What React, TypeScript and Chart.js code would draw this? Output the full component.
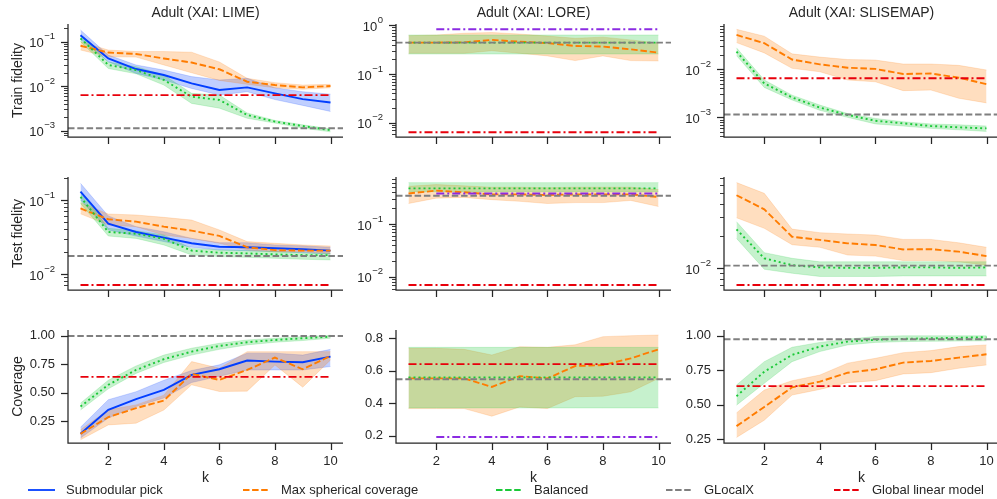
import React, { useEffect, useRef } from 'react';
import { Chart, registerables } from 'chart.js';
Chart.register(...registerables);

const FONT = '"Liberation Sans", Arial, Helvetica, sans-serif';
Chart.defaults.font.family = FONT;
const INK = '#262626';

// ---------------- data ----------------
const K = [1, 2, 3, 4, 5, 6, 7, 8, 9, 10];
const X_TICKS = [2, 4, 6, 8, 10];
const COV_TICKS_A = [0.25, 0.5, 0.75, 1.0];
const COV_TICKS_B = [0.2, 0.4, 0.6, 0.8];

// LIME – train fidelity
const limeTrainSub = [0.14, 0.042, 0.0243, 0.0178, 0.0116, 0.0082, 0.0094, 0.0069, 0.0051, 0.0043];
const limeTrainSubLo = [0.113, 0.0355, 0.0194, 0.0138, 0.0089, 0.0063, 0.0075, 0.005, 0.0037, 0.0027];
const limeTrainSubHi = [0.183, 0.05, 0.03, 0.023, 0.0164, 0.0138, 0.015, 0.0092, 0.0075, 0.0066];
const limeTrainMsc = [0.081, 0.057, 0.053, 0.042, 0.034, 0.024, 0.0126, 0.0106, 0.0094, 0.0101];
const limeTrainMscLo = [0.065, 0.046, 0.045, 0.03, 0.02, 0.0135, 0.011, 0.0092, 0.0085, 0.0092];
const limeTrainMscHi = [0.1, 0.065, 0.06, 0.06, 0.058, 0.035, 0.015, 0.012, 0.0106, 0.011];
const limeTrainBal = [0.119, 0.03, 0.023, 0.0138, 0.0058, 0.0049, 0.00225, 0.0016, 0.00127, 0.00103];
const limeTrainBalLo = [0.1, 0.025, 0.019, 0.0106, 0.0041, 0.0032, 0.0019, 0.00148, 0.00114, 0.00094];
const limeTrainBalHi = [0.14, 0.035, 0.0275, 0.0178, 0.0069, 0.0063, 0.0025, 0.0017, 0.00135, 0.0011];

// LORE – train fidelity
const loreTrainMsc = [0.44, 0.44, 0.445, 0.5, 0.46, 0.43, 0.376, 0.365, 0.32, 0.274];
const loreTrainMscLo = [0.266, 0.266, 0.266, 0.3, 0.266, 0.235, 0.188, 0.235, 0.188, 0.185];
const loreTrainMscHi = [0.61, 0.63, 0.685, 0.71, 0.66, 0.6, 0.54, 0.57, 0.5, 0.43];
const loreTrainBal = [0.44, 0.44, 0.44, 0.44, 0.44, 0.44, 0.44, 0.44, 0.44, 0.44];
const loreTrainBalLo = [0.257, 0.257, 0.257, 0.257, 0.257, 0.257, 0.257, 0.257, 0.257, 0.257];
const loreTrainBalHi = [0.63, 0.63, 0.63, 0.63, 0.63, 0.63, 0.63, 0.63, 0.63, 0.63];

// SLISEMAP – train fidelity
const sliTrainMsc = [0.052, 0.035, 0.016, 0.0127, 0.0108, 0.0102, 0.008, 0.0082, 0.0067, 0.0049];
const sliTrainMscLo = [0.036, 0.022, 0.0105, 0.0089, 0.006, 0.0055, 0.0036, 0.0037, 0.0025, 0.002];
const sliTrainMscHi = [0.068, 0.049, 0.021, 0.018, 0.016, 0.0156, 0.0129, 0.0129, 0.0121, 0.0097];
const sliTrainBal = [0.0233, 0.0051, 0.0026, 0.0016, 0.00112, 0.00085, 0.00075, 0.00066, 0.00062, 0.00059];
const sliTrainBalLo = [0.0193, 0.0042, 0.0023, 0.0014, 0.001, 0.00073, 0.00066, 0.00059, 0.00055, 0.00051];
const sliTrainBalHi = [0.028, 0.006, 0.0029, 0.0018, 0.0012, 0.00095, 0.00081, 0.00073, 0.0007, 0.00066];

// LIME – test fidelity
const limeTestSub = [0.13, 0.048, 0.037, 0.031, 0.026, 0.0234, 0.023, 0.0223, 0.0216, 0.0207];
const limeTestSubLo = [0.1, 0.0394, 0.0326, 0.0274, 0.023, 0.0211, 0.0207, 0.02, 0.0194, 0.0186];
const limeTestSubHi = [0.168, 0.061, 0.0436, 0.0373, 0.0303, 0.0265, 0.0265, 0.0247, 0.024, 0.023];
const limeTestMsc = [0.077, 0.055, 0.051, 0.0436, 0.0386, 0.0327, 0.023, 0.021, 0.0207, 0.0207];
const limeTestMscLo = [0.065, 0.046, 0.0436, 0.0336, 0.0303, 0.026, 0.0211, 0.02, 0.02, 0.019];
const limeTestMscHi = [0.092, 0.0647, 0.0627, 0.0583, 0.0536, 0.0394, 0.0274, 0.026, 0.0247, 0.0239];
const limeTestBal = [0.11, 0.037, 0.035, 0.03, 0.0207, 0.0194, 0.019, 0.0184, 0.018, 0.018];
const limeTestBalLo = [0.09, 0.0326, 0.0303, 0.0247, 0.0181, 0.0172, 0.0168, 0.0163, 0.0158, 0.0155];
const limeTestBalHi = [0.13, 0.0414, 0.0385, 0.0336, 0.0222, 0.0211, 0.0207, 0.02, 0.0194, 0.019];

// LORE – test fidelity
const loreTestMsc = [0.38, 0.43, 0.4, 0.365, 0.365, 0.355, 0.365, 0.365, 0.365, 0.326];
const loreTestMscLo = [0.245, 0.31, 0.32, 0.29, 0.27, 0.245, 0.255, 0.255, 0.28, 0.215];
const loreTestMscHi = [0.52, 0.56, 0.53, 0.5, 0.5, 0.49, 0.5, 0.5, 0.5, 0.45];
const loreTestBal = [0.475, 0.475, 0.475, 0.475, 0.475, 0.475, 0.475, 0.475, 0.475, 0.475];
const loreTestBalLo = [0.41, 0.41, 0.41, 0.41, 0.41, 0.41, 0.41, 0.41, 0.41, 0.41];
const loreTestBalHi = [0.61, 0.61, 0.61, 0.61, 0.61, 0.61, 0.61, 0.61, 0.61, 0.61];

// SLISEMAP – test fidelity
const sliTestMsc = [0.048, 0.0355, 0.0197, 0.0184, 0.0171, 0.0165, 0.015, 0.0151, 0.0143, 0.013];
const sliTestMscLo = [0.0296, 0.0236, 0.0166, 0.0157, 0.0133, 0.013, 0.0118, 0.0118, 0.0115, 0.0107];
const sliTestMscHi = [0.063, 0.05, 0.0232, 0.0215, 0.0209, 0.0204, 0.0186, 0.0186, 0.0173, 0.0157];
const sliTestBal = [0.0231, 0.0124, 0.0107, 0.0102, 0.0101, 0.0101, 0.0102, 0.0102, 0.0101, 0.0102];
const sliTestBalLo = [0.019, 0.0098, 0.009, 0.0084, 0.0084, 0.0084, 0.0085, 0.0085, 0.0085, 0.0085];
const sliTestBalHi = [0.0272, 0.014, 0.0124, 0.0115, 0.0115, 0.0115, 0.0115, 0.0115, 0.0115, 0.0115];

// LIME – coverage
const limeCovSub = [0.142, 0.352, 0.445, 0.526, 0.657, 0.706, 0.782, 0.773, 0.767, 0.817];
const limeCovSubLo = [0.105, 0.28, 0.38, 0.455, 0.59, 0.645, 0.7, 0.7, 0.7, 0.73];
const limeCovSubHi = [0.2, 0.44, 0.51, 0.61, 0.695, 0.745, 0.847, 0.847, 0.83, 0.88];
const limeCovMsc = [0.142, 0.288, 0.366, 0.433, 0.666, 0.613, 0.7, 0.808, 0.706, 0.823];
const limeCovMscLo = [0.09, 0.22, 0.235, 0.35, 0.57, 0.512, 0.515, 0.744, 0.55, 0.787];
const limeCovMscHi = [0.177, 0.352, 0.395, 0.48, 0.773, 0.715, 0.86, 0.86, 0.86, 0.86];
const limeCovBal = [0.381, 0.57, 0.7, 0.794, 0.86, 0.91, 0.942, 0.962, 0.977, 0.991];
const limeCovBalLo = [0.35, 0.535, 0.67, 0.765, 0.83, 0.88, 0.919, 0.942, 0.957, 0.977];
const limeCovBalHi = [0.41, 0.61, 0.735, 0.83, 0.89, 0.933, 0.962, 0.977, 0.991, 1.003];

// LORE – coverage
const loreCovMsc = [0.553, 0.553, 0.553, 0.5, 0.567, 0.553, 0.629, 0.635, 0.676, 0.732];
const loreCovMscLo = [0.367, 0.367, 0.367, 0.32, 0.377, 0.367, 0.44, 0.443, 0.47, 0.553];
const loreCovMscHi = [0.738, 0.738, 0.732, 0.697, 0.748, 0.744, 0.76, 0.81, 0.816, 0.82];
const loreCovBal = [0.559, 0.559, 0.559, 0.559, 0.559, 0.559, 0.559, 0.559, 0.559, 0.559];
const loreCovBalLo = [0.371, 0.371, 0.371, 0.371, 0.371, 0.371, 0.371, 0.371, 0.371, 0.371];
const loreCovBalHi = [0.744, 0.744, 0.744, 0.744, 0.744, 0.744, 0.744, 0.744, 0.744, 0.744];

// SLISEMAP – coverage
const sliCovMsc = [0.344, 0.483, 0.625, 0.666, 0.731, 0.755, 0.804, 0.816, 0.84, 0.864];
const sliCovMscLo = [0.262, 0.387, 0.569, 0.61, 0.659, 0.673, 0.722, 0.731, 0.763, 0.787];
const sliCovMscHi = [0.44, 0.605, 0.673, 0.714, 0.8, 0.835, 0.876, 0.891, 0.92, 0.932];
const sliCovBal = [0.561, 0.738, 0.86, 0.92, 0.956, 0.969, 0.976, 0.98, 0.983, 0.988];
const sliCovBalLo = [0.496, 0.654, 0.811, 0.884, 0.932, 0.95, 0.956, 0.958, 0.96, 0.962];
const sliCovBalHi = [0.642, 0.811, 0.915, 0.95, 0.973, 0.993, 0.998, 0.998, 0.998, 0.998];

// reference lines (GLocalX, global linear model, extra LORE line)
const glocalx = [0.00113, 0.44, 0.00115, 0.0175, 0.345, 0.0106, 0.997, 0.548, 0.973];
const globalLinear = [0.0063, 0.0064, 0.0065, 0.0071, 0.007, 0.007, 0.64, 0.641, 0.634];
const loreExtra = [0.83, 0.38, 0.192];

// ---------------- styles / layout ----------------
const BLUE = '#023eff';
const ORANGE = '#ff7c00';
const GREEN = '#1ac938';
const GRAY = '#7f7f7f';
const RED = '#e8000b';
const PURPLE = '#8b2be2';

const X_MIN = 0.55;
const X_MAX = 10.45;
const PLOT_W = 275;
const PLOT_H = 113;
const Y_AXIS_W = 68;
const RIGHT_PAD = 8;
const COL_LEFT = [0, 328, 656];
const ROW_TOP = [0, 163, 316];
const TOP_PAD = [24, 14, 14];
const X_AXIS_H = [10, 10, 45];

type Band = { mean: number[]; lo: number[]; hi: number[] };
interface Panel {
  row: number;
  col: number;
  title?: string;
  yLabel?: string;
  log: boolean;
  yMin: number;
  yMax: number;
  yTicks?: number[];
  yDec?: number;
  sub?: Band;
  msc: Band;
  bal: Band;
  glocalx: number;
  global: number;
  extra?: number;
}

const PANELS: Panel[] = [
  { row: 0, col: 0, title: 'Adult (XAI: LIME)', yLabel: 'Train fidelity', log: true, yMin: 0.00072, yMax: 0.25,
    sub: { mean: limeTrainSub, lo: limeTrainSubLo, hi: limeTrainSubHi },
    msc: { mean: limeTrainMsc, lo: limeTrainMscLo, hi: limeTrainMscHi },
    bal: { mean: limeTrainBal, lo: limeTrainBalLo, hi: limeTrainBalHi },
    glocalx: glocalx[0], global: globalLinear[0] },
  { row: 0, col: 1, title: 'Adult (XAI: LORE)', log: true, yMin: 0.0051, yMax: 1.06,
    msc: { mean: loreTrainMsc, lo: loreTrainMscLo, hi: loreTrainMscHi },
    bal: { mean: loreTrainBal, lo: loreTrainBalLo, hi: loreTrainBalHi },
    glocalx: glocalx[1], global: globalLinear[1], extra: loreExtra[0] },
  { row: 0, col: 2, title: 'Adult (XAI: SLISEMAP)', log: true, yMin: 0.00039, yMax: 0.0879,
    msc: { mean: sliTrainMsc, lo: sliTrainMscLo, hi: sliTrainMscHi },
    bal: { mean: sliTrainBal, lo: sliTrainBalLo, hi: sliTrainBalHi },
    glocalx: glocalx[2], global: globalLinear[2] },
  { row: 1, col: 0, yLabel: 'Test fidelity', log: true, yMin: 0.00608, yMax: 0.2046,
    sub: { mean: limeTestSub, lo: limeTestSubLo, hi: limeTestSubHi },
    msc: { mean: limeTestMsc, lo: limeTestMscLo, hi: limeTestMscHi },
    bal: { mean: limeTestBal, lo: limeTestBalLo, hi: limeTestBalHi },
    glocalx: glocalx[3], global: globalLinear[3] },
  { row: 1, col: 1, log: true, yMin: 0.00562, yMax: 0.78,
    msc: { mean: loreTestMsc, lo: loreTestMscLo, hi: loreTestMscHi },
    bal: { mean: loreTestBal, lo: loreTestBalLo, hi: loreTestBalHi },
    glocalx: glocalx[4], global: globalLinear[4], extra: loreExtra[1] },
  { row: 1, col: 2, log: true, yMin: 0.00628, yMax: 0.071,
    msc: { mean: sliTestMsc, lo: sliTestMscLo, hi: sliTestMscHi },
    bal: { mean: sliTestBal, lo: sliTestBalLo, hi: sliTestBalHi },
    glocalx: glocalx[5], global: globalLinear[5] },
  { row: 2, col: 0, yLabel: 'Coverage', log: false, yMin: 0.062, yMax: 1.049, yTicks: COV_TICKS_A, yDec: 2,
    sub: { mean: limeCovSub, lo: limeCovSubLo, hi: limeCovSubHi },
    msc: { mean: limeCovMsc, lo: limeCovMscLo, hi: limeCovMscHi },
    bal: { mean: limeCovBal, lo: limeCovBalLo, hi: limeCovBalHi },
    glocalx: glocalx[6], global: globalLinear[6] },
  { row: 2, col: 1, log: false, yMin: 0.155, yMax: 0.851, yTicks: COV_TICKS_B, yDec: 1,
    msc: { mean: loreCovMsc, lo: loreCovMscLo, hi: loreCovMscHi },
    bal: { mean: loreCovBal, lo: loreCovBalLo, hi: loreCovBalHi },
    glocalx: glocalx[7], global: globalLinear[7], extra: loreExtra[2] },
  { row: 2, col: 2, log: false, yMin: 0.222, yMax: 1.04, yTicks: COV_TICKS_A, yDec: 2,
    msc: { mean: sliCovMsc, lo: sliCovMscLo, hi: sliCovMscHi },
    bal: { mean: sliCovBal, lo: sliCovBalLo, hi: sliCovBalHi },
    glocalx: glocalx[8], global: globalLinear[8] },
];

function rgba(hex: string, a: number) {
  const n = parseInt(hex.slice(1), 16);
  return `rgba(${(n >> 16) & 255},${(n >> 8) & 255},${n & 255},${a})`;
}

function logTicks(min: number, max: number) {
  const out: { value: number; major: boolean }[] = [];
  for (let e = Math.floor(Math.log10(min)); e <= Math.ceil(Math.log10(max)); e++) {
    for (let m = 1; m <= 9; m++) {
      const v = parseFloat((m * Math.pow(10, e)).toPrecision(6));
      if (v >= min * 0.9999 && v <= max * 1.0001) out.push({ value: v, major: m === 1 });
    }
  }
  return out;
}

const DASH = [6.5, 2.8];
const DOT = [2, 3];
const DASHDOT = [8, 3, 2, 3];

function buildDatasets(p: Panel) {
  const ds: any[] = [];
  const methods: [Band | undefined, string, number[]][] = [
    [p.sub, BLUE, []],
    [p.msc, ORANGE, DASH],
    [p.bal, GREEN, DOT],
  ];
  for (const [b, color] of methods) {
    if (!b) continue;
    ds.push({ data: K.map((k, i) => ({ x: k, y: b.hi[i] })), borderColor: rgba(color, 0.22), borderWidth: 0.8, fill: false });
    ds.push({ data: K.map((k, i) => ({ x: k, y: b.lo[i] })), borderColor: rgba(color, 0.22), borderWidth: 0.8, fill: '-1', backgroundColor: rgba(color, 0.25) });
  }
  for (const [b, color, dash] of methods) {
    if (!b) continue;
    ds.push({ data: K.map((k, i) => ({ x: k, y: b.mean[i] })), borderColor: color, borderWidth: 1.9, borderDash: dash, fill: false });
  }
  ds.push({ data: [{ x: X_MIN, y: p.glocalx }, { x: X_MAX, y: p.glocalx }], borderColor: GRAY, borderWidth: 1.9, borderDash: DASH, fill: false });
  ds.push({ data: [{ x: K[0], y: p.global }, { x: K[K.length - 1], y: p.global }], borderColor: RED, borderWidth: 1.9, borderDash: DASHDOT, fill: false });
  if (p.extra !== undefined) {
    ds.push({ data: [{ x: K[1], y: p.extra }, { x: K[K.length - 1], y: p.extra }], borderColor: PURPLE, borderWidth: 1.9, borderDash: DASHDOT, fill: false });
  }
  const n = ds.length;
  ds.forEach((d, i) => {
    d.order = n - i;
    d.pointRadius = 0;
    d.pointHoverRadius = 0;
    d.tension = 0;
    d.borderCapStyle = 'butt';
  });
  return ds;
}

function makeAxesPlugin(p: Panel) {
  return {
    id: 'mplAxes',
    afterDraw(chart: any) {
      const { ctx, chartArea: ca } = chart;
      const xs = chart.scales.x;
      const ys = chart.scales.y;
      ctx.save();
      ctx.strokeStyle = INK;
      ctx.lineWidth = 1.25;
      ctx.beginPath();
      ctx.moveTo(ca.left, ca.top);
      ctx.lineTo(ca.left, ca.bottom);
      ctx.lineTo(ca.right, ca.bottom);
      ctx.stroke();
      ctx.beginPath();
      for (const t of xs.ticks) {
        const px = Math.round(xs.getPixelForValue(t.value)) + 0.5;
        ctx.moveTo(px, ca.bottom);
        ctx.lineTo(px, ca.bottom + 7);
      }
      ctx.stroke();
      for (const t of ys.ticks) {
        const py = Math.round(ys.getPixelForValue(t.value)) + 0.5;
        const major = !p.log || t.major;
        ctx.lineWidth = major ? 1.25 : 0.9;
        ctx.beginPath();
        ctx.moveTo(ca.left, py);
        ctx.lineTo(ca.left - (major ? 7 : 4), py);
        ctx.stroke();
      }
      ctx.fillStyle = INK;
      if (p.log) {
        const right = ca.left - 13;
        for (const t of ys.ticks) {
          if (!t.major) continue;
          const e = Math.round(Math.log10(t.value));
          const py = ys.getPixelForValue(t.value);
          const exp = e < 0 ? '\u2212' + Math.abs(e) : String(e);
          ctx.font = `9.5px ${FONT}`;
          const ew = ctx.measureText(exp).width;
          ctx.textBaseline = 'middle';
          ctx.textAlign = 'left';
          ctx.fillText(exp, right - ew, py - 5);
          ctx.font = `13px ${FONT}`;
          ctx.textAlign = 'right';
          ctx.fillText('10', right - ew - 0.5, py + 2);
        }
      }
      if (p.title) {
        ctx.font = `14px ${FONT}`;
        ctx.textAlign = 'center';
        ctx.textBaseline = 'middle';
        ctx.fillText(p.title, (ca.left + ca.right) / 2, 13);
      }
      ctx.restore();
    },
  };
}

function makeConfig(p: Panel): any {
  const bottomRow = p.row === 2;
  return {
    type: 'line',
    data: { datasets: buildDatasets(p) },
    plugins: [makeAxesPlugin(p)],
    options: {
      responsive: false,
      animation: false,
      devicePixelRatio: 1,
      events: [],
      layout: { padding: { top: TOP_PAD[p.row], right: RIGHT_PAD, left: 0, bottom: 0 } },
      plugins: { legend: { display: false }, tooltip: { enabled: false }, title: { display: false } },
      scales: {
        x: {
          type: 'linear',
          min: X_MIN,
          max: X_MAX,
          afterBuildTicks: (s: any) => { s.ticks = X_TICKS.map((v) => ({ value: v })); },
          afterFit: (s: any) => { s.height = X_AXIS_H[p.row]; },
          grid: { display: false, drawTicks: true, tickLength: 7 },
          border: { display: false },
          ticks: { display: bottomRow, color: INK, font: { size: 13 }, padding: 4, maxRotation: 0, autoSkip: false, callback: (v: number) => String(v) },
          title: { display: bottomRow, text: 'k', color: INK, font: { size: 14 }, padding: { top: 0, bottom: 1 } },
        },
        y: {
          type: p.log ? 'logarithmic' : 'linear',
          min: p.yMin,
          max: p.yMax,
          afterBuildTicks: (s: any) => {
            s.ticks = p.log ? logTicks(p.yMin, p.yMax) : (p.yTicks || []).map((v) => ({ value: v }));
          },
          afterFit: (s: any) => { s.width = Y_AXIS_W; },
          grid: { display: false, drawTicks: true, tickLength: 7 },
          border: { display: false },
          ticks: { display: !p.log, color: INK, font: { size: 13 }, padding: 6, autoSkip: false, callback: (v: number) => Number(v).toFixed(p.yDec || 2) },
          title: { display: !!p.yLabel, text: p.yLabel || '', color: INK, font: { size: 14 }, padding: { top: 10, bottom: 0 } },
        },
      },
    },
  };
}

function PanelChart({ p }: { p: Panel }) {
  const ref = useRef<HTMLCanvasElement>(null);
  const w = Y_AXIS_W + PLOT_W + RIGHT_PAD;
  const h = TOP_PAD[p.row] + PLOT_H + X_AXIS_H[p.row];
  useEffect(() => {
    const chart = new Chart(ref.current as HTMLCanvasElement, makeConfig(p));
    return () => chart.destroy();
  }, []);
  return (
    <canvas
      ref={ref}
      width={w}
      height={h}
      style={{ position: 'absolute', left: COL_LEFT[p.col], top: ROW_TOP[p.row], width: w, height: h }}
    />
  );
}

const LEGEND_ITEMS = [
  { label: 'Submodular pick', color: BLUE, dash: '' },
  { label: 'Max spherical coverage', color: ORANGE, dash: '6.5 2.6' },
  { label: 'Balanced', color: GREEN, dash: '6.5 2.6' },
  { label: 'GLocalX', color: GRAY, dash: '6.5 2.6' },
  { label: 'Global linear model', color: RED, dash: '6.5 2.6' },
];
const LEGEND_X = [28, 243, 496, 666, 834];
const LEGEND_TOP = 481;

function Legend() {
  return (
    <>
      {LEGEND_ITEMS.map((it, i) => (
        <div key={i} style={{ position: 'absolute', left: LEGEND_X[i], top: LEGEND_TOP, height: 17, display: 'flex', alignItems: 'center', whiteSpace: 'nowrap' }}>
          <svg width={27} height={4} style={{ display: 'block' }}>
            <line x1={0} y1={2} x2={27} y2={2} stroke={it.color} strokeWidth={1.8} strokeDasharray={it.dash || undefined} />
          </svg>
          <span style={{ marginLeft: 11, font: `13px ${FONT}`, color: INK, lineHeight: '17px' }}>{it.label}</span>
        </div>
      ))}
    </>
  );
}

export default function App() {
  useEffect(() => {
    document.body.style.margin = '0';
  }, []);
  return (
    <div style={{ position: 'fixed', left: 0, top: 0, width: 997, height: 499, overflow: 'hidden', background: '#fff', fontFamily: FONT }}>
      {PANELS.map((p, i) => (
        <PanelChart key={i} p={p} />
      ))}
      <Legend />
    </div>
  );
}
